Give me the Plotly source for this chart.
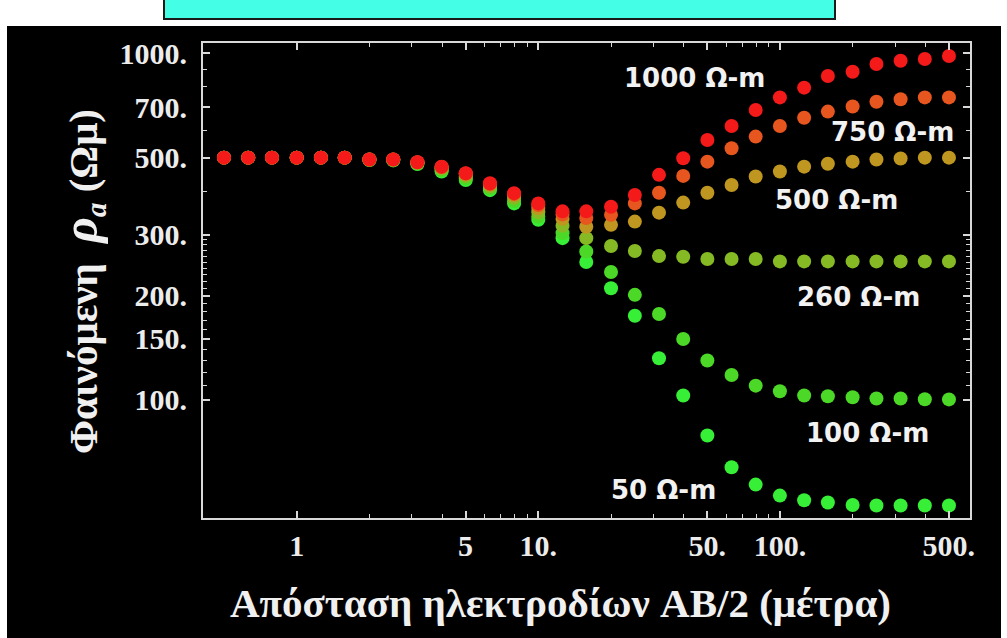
import plotly.graph_objects as go

# ---------------- data ----------------
ab2 = [0.5, 0.63, 0.79, 1.0, 1.26, 1.58, 2.0, 2.51, 3.16, 3.98, 5.01, 6.31, 7.94,
       10.0, 12.6, 15.8, 20.0, 25.1, 31.6, 39.8, 50.1, 63.1, 79.4, 100.0, 126.0,
       158.0, 200.0, 251.0, 316.0, 398.0, 501.0]

rho_1000 = [500, 500, 500, 500, 500, 500, 494, 494, 485, 471, 451, 422, 395, 369, 350,
            350, 361, 390, 446, 498, 562, 617, 686, 746, 796, 860, 885, 931, 952, 963, 982]
rho_750 = [500, 500, 500, 500, 500, 500, 494, 494, 485, 470, 450, 420, 393, 365, 343,
           335, 342, 369, 396, 443, 487, 532, 575, 617, 652, 679, 702, 725, 737, 746, 746]
rho_500 = [500, 500, 500, 500, 500, 500, 494, 494, 484, 469, 448, 418, 390, 358, 333,
           316, 320, 327, 347, 371, 396, 417, 441, 456, 471, 480, 487, 494, 497, 500, 500]
rho_260 = [500, 500, 500, 500, 500, 500, 494, 493, 483, 465, 443, 413, 383, 348, 318,
           293, 278, 269, 260, 259, 255, 255, 255, 251, 251, 251, 251, 251, 251, 251, 251]
rho_100 = [500, 500, 500, 500, 500, 500, 493, 492, 481, 460, 436, 408, 375, 338, 303,
           268, 234, 201, 177, 150, 130, 118, 110, 106, 103, 102.5, 101.8, 101, 101, 100.5, 100.4]
rho_50 = [500, 500, 500, 500, 500, 500, 492, 491, 479, 456, 431, 403, 369, 331, 293,
          250, 210, 175, 132, 103, 79, 64, 57, 53, 51.4, 50.6, 49.8, 49.6, 49.6, 49.6, 49.6]

series_names = ["50 Ω-m", "100 Ω-m", "260 Ω-m", "500 Ω-m", "750 Ω-m", "1000 Ω-m"]
series_values = [rho_50, rho_100, rho_260, rho_500, rho_750, rho_1000]
series_colors = ["#36ef36", "#4cd826", "#86ba24", "#bf961f", "#e6561e", "#f51a1a"]

x_tickvals = [1, 5, 10, 50, 100, 500]
x_ticktext = ["1", "5", "10.", "50.", "100.", "500."]
x_minor = [2, 3, 4, 6, 7, 8, 9, 20, 30, 40, 60, 70, 80, 90, 200, 300, 400]
y_tickvals = [100, 150, 200, 300, 500, 700, 1000]
y_ticktext = ["100.", "150.", "200.", "300.", "500.", "700.", "1000."]
y_minor = [110, 120, 130, 140, 160, 170, 180, 190, 210, 220, 230, 240, 250, 260,
           270, 280, 290, 400, 600, 800, 900]

# ---------------- layout geometry (pixels) ----------------
W, H = 1007, 638
PL, PR, PT, PB = 203, 970, 43, 518


def px(xpix):
    return (xpix - PL) / (PR - PL)


def py(ypix):
    return (PB - ypix) / (PB - PT)


fig = go.Figure()
for name, vals, col in zip(series_names, series_values, series_colors):
    fig.add_trace(go.Scatter(x=ab2, y=vals, mode="markers", name=name,
                             marker=dict(size=14, color=col, line=dict(width=0)),
                             showlegend=False))

label_pos = {"1000 Ω-m": (694, 78), "750 Ω-m": (892, 132), "500 Ω-m": (836, 200),
             "260 Ω-m": (858, 297), "100 Ω-m": (867, 433), "50 Ω-m": (663, 490)}
for txt, (lx, ly) in label_pos.items():
    fig.add_annotation(x=px(lx), y=py(ly), xref="paper", yref="paper", text=txt,
                       showarrow=False, xanchor="center", yanchor="middle",
                       font=dict(family="DejaVu Sans", size=26, color="#f2f2f2", weight="bold"))

# axis titles
fig.add_annotation(x=px(560), y=py(603), xref="paper", yref="paper",
                   text="Απόσταση ηλεκτροδίων AB/2 (μέτρα)", showarrow=False,
                   xanchor="center", yanchor="middle",
                   font=dict(family="Liberation Serif", size=41, color="#f0f0f0", weight="bold"))
fig.add_annotation(x=px(82), y=py(282), xref="paper", yref="paper",
                   text="Φαινόμενη&nbsp;&nbsp;<span style='font-size:50px'><i>ρ</i></span><sub><i>a</i></sub>&nbsp;(Ωμ)",
                   showarrow=False, textangle=-90, xanchor="center", yanchor="middle",
                   font=dict(family="Liberation Serif", size=41, color="#f0f0f0", weight="bold"))

# background shapes
fig.add_shape(type="rect", xref="paper", yref="paper", x0=px(7), x1=px(1001),
              y0=py(642), y1=py(26), fillcolor="black", line=dict(width=0), layer="below")
fig.add_shape(type="rect", xref="paper", yref="paper", x0=px(164), x1=px(835),
              y0=py(19), y1=py(-4), fillcolor="#44ffe6", line=dict(width=2, color="#1a1a1a"),
              layer="below")

tickfont = dict(family="Liberation Serif", size=30, color="#ececec", weight="bold")
fig.update_xaxes(type="log", range=[-0.3878, 2.7869], tickmode="array",
                 tickvals=x_tickvals, ticktext=x_ticktext, tickfont=tickfont,
                 ticks="inside", ticklen=7, tickwidth=1.5, tickcolor="#d8d8d8",
                 minor=dict(tickmode="array", tickvals=x_minor, ticks="inside", ticklen=4,
                            tickcolor="#d8d8d8", tickwidth=1, showgrid=False),
                 showline=True, linecolor="#d8d8d8", linewidth=2, mirror="allticks",
                 showgrid=False, zeroline=False, ticklabelstandoff=0)
fig.update_yaxes(type="log", range=[1.6596, 3.0297], tickmode="array",
                 tickvals=y_tickvals, ticktext=y_ticktext, tickfont=tickfont,
                 ticks="inside", ticklen=7, tickwidth=1.5, tickcolor="#d8d8d8",
                 minor=dict(tickmode="array", tickvals=y_minor, ticks="inside", ticklen=4,
                            tickcolor="#d8d8d8", tickwidth=1, showgrid=False),
                 showline=True, linecolor="#d8d8d8", linewidth=2, mirror="allticks",
                 showgrid=False, zeroline=False, ticklabelstandoff=8)

fig.update_layout(width=W, height=H, paper_bgcolor="white", plot_bgcolor="black",
                  margin=dict(l=PL, r=W - PR, t=PT, b=H - PB, pad=0))

fig.write_html("out.html", config={"displayModeBar": False},
               post_script="document.body.style.margin='0px';document.body.style.overflow='hidden';")
